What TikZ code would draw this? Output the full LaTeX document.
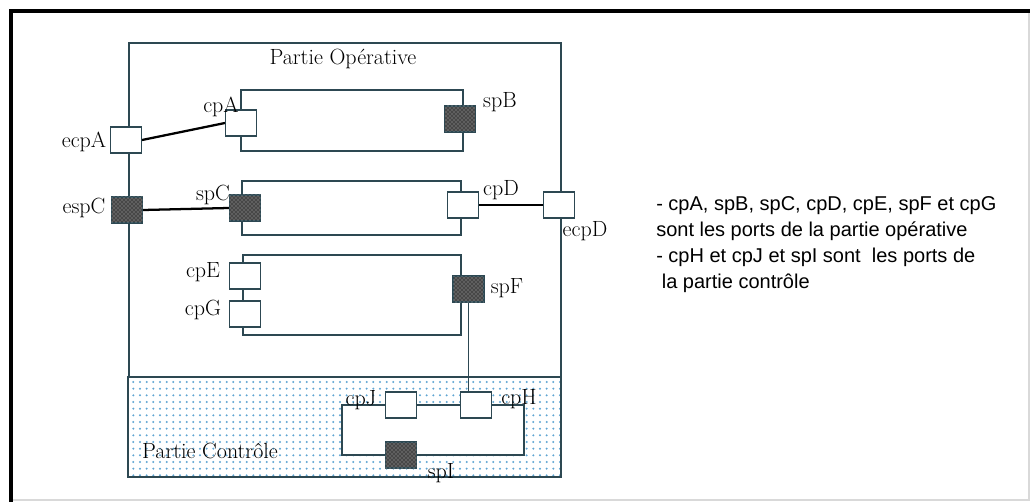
\documentclass[tikz,border=0pt]{standalone}
\usepackage{fontspec}
\newfontfamily\legendfont{Liberation Sans}
\usepackage{tikz}
\usetikzlibrary{positioning, patterns, patterns.meta}

\begin{document}
\begin{tikzpicture}[x=0.75pt, y=-0.75pt,
  port/.style={draw=edgecolor, line width=1.1pt, fill=white, minimum width=23pt, minimum height=19.5pt, inner sep=0pt},
  sport/.style={port, fill=black!72, postaction={pattern=crosshatch dots, pattern color=black!30}},
  lbl/.style={inner sep=0pt, font=\fontsize{16.5}{18}\selectfont},
  wire/.style={line width=1.7pt, black},
  thinwire/.style={line width=1.1pt, edgecolor}]

%colours
\definecolor{edgecolor}{RGB}{45,72,82}
\definecolor{dotcolor}{RGB}{95,165,210}

\useasboundingbox (0,0) rectangle (1030,502);

%frame
  \draw[black!15, line width=0.8pt] (11,500) -- (1029,500) -- (1029,11);
  \draw[black, line width=2.3pt] (11,502) -- (11,11) -- (1030,11);

%filling the control part
  \fill[pattern={Dots[distance=5pt, radius=0.85pt]}, pattern color=dotcolor] (128,377) rectangle (561,477);
  \fill[white] (342,405) rectangle (524,455);

%parts and blocks
  \draw[edgecolor, line width=1.1pt] (129,43) rectangle (561,377);            % operative
  \draw[edgecolor, line width=1.1pt] (128,377) rectangle (561,477);           % control
  \draw[edgecolor, line width=1.1pt] (241,90) rectangle (463,151);
  \draw[edgecolor, line width=1.1pt] (242,181) rectangle (461,235);
  \draw[edgecolor, line width=1.1pt] (243,255) rectangle (461,335);

%ports
  \node[port]  (ecpA) at (126,140) {};
  \node[port]  (cpA)  at (241,123) {};
  \node[sport] (spB)  at (460,119) {};
  \node[sport] (espC) at (127,210) {};
  \node[sport] (spC)  at (245,208) {};
  \node[port]  (cpD)  at (463,205) {};
  \node[port]  (ecpD) at (559,205) {};
  \node[port]  (cpE)  at (245,276) {};
  \node[port]  (cpG)  at (245,314) {};
  \node[sport] (spF)  at (468.5,289) {};
  \node[port]  (cpJ)  at (401,405) {};
  \node[port]  (cpH)  at (476,405) {};
  \node[sport] (spI)  at (401,455) {};
  \coordinate (loopL) at (342,455);
  \coordinate (loopR) at (524,455);

%connectors
  \draw[wire] (ecpA.east) -- (cpA.west);
  \draw[wire] (espC.east) -- (spC.west);
  \draw[wire] (cpD.east) -- (ecpD.west);
  \draw[thinwire] (spF.south) -- (spF.south |- cpH.north);
  \draw[thinwire] (cpJ.east) -- (cpH.west);
  \draw[thinwire] (cpJ.west) -| (loopL) -- (spI.west);
  \draw[thinwire] (cpH.east) -| (loopR) -- (spI.east);

%labels
  \node[lbl] (top)    at (343,59)  {Partie Opérative};
  \node[lbl] (bottom) at (210,451) {Partie Contrôle};
  \node[lbl] (tcpA)  at (221,107) {cpA};
  \node[lbl] (tspB)  at (500,102) {spB};
  \node[lbl] (tecpA) at (84,142)  {ecpA};
  \node[lbl] (tespC) at (84,208)  {espC};
  \node[lbl] (tspC)  at (213,195) {spC};
  \node[lbl] (tcpD)  at (501,190) {cpD};
  \node[lbl] (tecpD) at (585,231) {ecpD};
  \node[lbl] (tcpE)  at (203,272) {cpE};
  \node[lbl] (tcpG)  at (203,310) {cpG};
  \node[lbl] (tspF)  at (507,288) {spF};
  \node[lbl] (tcpJ)  at (361,400) {cpJ};
  \node[lbl] (tcpH)  at (519,399) {cpH};
  \node[lbl] (tspI)  at (441,473) {spI};

%legend
  \node[inner sep=0pt, anchor=north west, align=left,
        font=\legendfont\fontsize{15}{19.5}\selectfont] (legend) at (656,196)
    {- cpA, spB, spC, cpD, cpE, spF et cpG\\
     sont les ports de la partie opérative\\
     - cpH et cpJ et spI sont\ \ les ports de\\
     \ la partie contrôle};
\end{tikzpicture}
\end{document}
